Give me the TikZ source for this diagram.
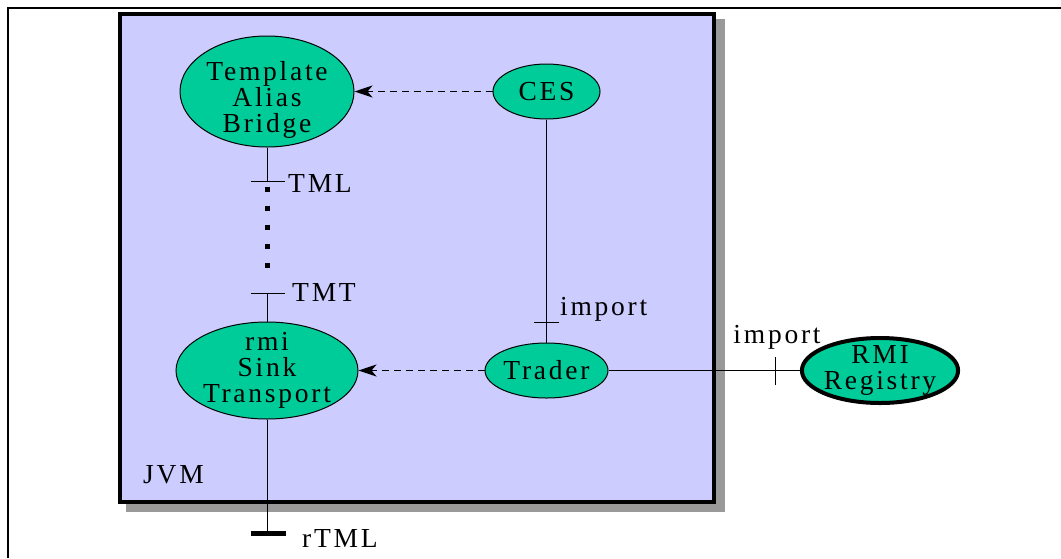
\documentclass[tikz,border=0pt]{standalone}
\usepackage{fontspec}
\setmainfont{Liberation Serif}[LetterSpace=10]
\usetikzlibrary{shapes.geometric,arrows.meta}
\definecolor{jvmfill}{HTML}{CCCCFF}
\definecolor{compfill}{HTML}{00CC99}
\definecolor{shadowgray}{HTML}{999999}
\begin{document}
\begin{tikzpicture}[x=1pt,y=-1pt,
  font=\fontsize{27.5}{26}\selectfont,
  comp/.style={ellipse,draw,fill=compfill,line width=1pt,inner xsep=-1pt,inner ysep=-5pt,align=center},
  call/.style={line width=1.8pt,dash pattern=on 7pt off 5pt,-{Stealth[length=18pt,width=12pt,inset=5pt]}},
  wire/.style={line width=1pt},
  dotline/.style={line width=5pt,dash pattern=on 5pt off 14pt},
  lbl/.style={inner sep=0pt}]
\useasboundingbox (0,0) rectangle (1061,558);
% frame
\draw[line width=2pt] (8,558) -- (8,8) -- (1061,8);
% JVM box with shadow
\fill[shadowgray] (126,19) rectangle (725,512);
\draw[line width=4pt,fill=jvmfill] (120,14) rectangle (714,502);
\node[lbl,anchor=base west] (jvm) at (143,483) {JVM};
% components
\node[comp,minimum width=174pt,minimum height=111pt] (tab) at (267,91.5) {};
\node[lbl,align=center] (tabtext) at (267,100) {Template\\Alias\\Bridge};
\node[comp,minimum width=107pt,minimum height=55pt] (ces) at (546.5,91.5) {CES};
\node[comp,minimum width=123pt,minimum height=55pt] (trader) at (546.5,370.5) {Trader};
\node[comp,minimum width=182pt,minimum height=97pt] (sink) at (267,370.5) {rmi\\Sink\\Transport};
\node[comp,line width=4pt,minimum width=152pt,minimum height=65pt] (registry) at (880,370.5) {RMI\\Registry};
% ports
\coordinate (tml) at (267,181);
\coordinate (dottop) at (267,186.5);
\coordinate (dotbot) at (267,268.5);
\coordinate (tmt) at (267,293);
\coordinate (imp) at (546.5,322);
\coordinate (rimp) at (775,370.5);
\coordinate (rtml) at (267,533);
% calls
\draw[call] (ces) -- (tab);
\draw[call] (trader) -- (sink);
% wires
\draw[wire] (tab) -- (tml);
\draw[dotline] (dottop) -- (dotbot);
\draw[wire] (tmt) -- (sink);
\draw[wire] (ces) -- (trader);
\draw[wire] (trader) -- (registry);
\draw[wire] (sink) -- (rtml);
% ticks
\draw[wire] (tml) ++(-16,0) -- ++(34,0);
\draw[wire] (tmt) ++(-16,0) -- ++(34,0);
\draw[wire] (imp) ++(-12.5,0) -- ++(25,0);
\draw[wire] (rimp) ++(0,-13.5) -- ++(0,28);
\draw[line width=5pt] (rtml) ++(-16,0) -- ++(35,0);
% port labels
\node[lbl,anchor=base west] (tmllbl) at (288,192) {TML};
\node[lbl,anchor=base west] (tmtlbl) at (292,301) {TMT};
\node[lbl,anchor=base west] (implbl) at (560,315) {import};
\node[lbl,anchor=base] (rimplbl) at (777,343) {import};
\node[lbl,anchor=base west] (rtmllbl) at (302,547) {rTML};
\end{tikzpicture}
\end{document}
